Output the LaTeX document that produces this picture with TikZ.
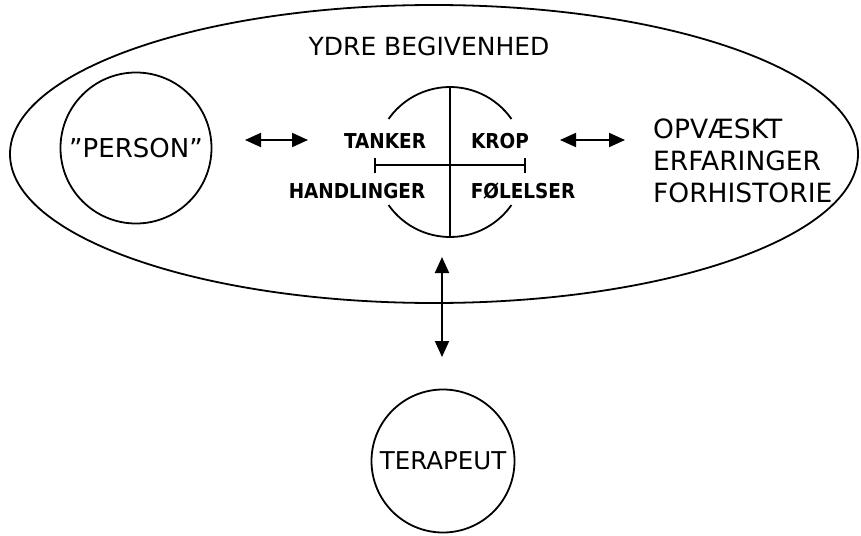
\documentclass[tikz,border=0pt]{standalone}
\usepackage{fontspec}
\setmainfont{DejaVu Sans}
\newfontfamily\quadfont[FakeStretch=0.9]{DejaVu Sans Bold}
\usetikzlibrary{arrows.meta}
\begin{document}
\begin{tikzpicture}[x=1pt,y=-1pt,
  lbl/.style={inner sep=0pt, font=\fontsize{25}{32}\selectfont},
  quad/.style={inner sep=0pt, font=\quadfont\fontsize{20.5}{24}\selectfont},
  ring/.style={draw, line width=1.8pt},
  bubble/.style={circle, draw, line width=1.8pt, inner sep=0pt},
  cross/.style={line width=1.3pt},
  dbl/.style={line width=2pt, {Triangle[length=16pt,width=14pt]}-{Triangle[length=16pt,width=14pt]}}]
\useasboundingbox (0,0) rectangle (861,535);
% outer ellipse
\draw[ring] (434,154) ellipse [x radius=424, y radius=149];
\node[lbl] (ydre) at (429,46) {YDRE BEGIVENHED};
% person
\node[bubble, minimum size=151pt, font=\fontsize{26}{30}\selectfont] (person) at (136,148) {”PERSON”};
% central quad
\begin{scope}[shift={(450,162)}, x=1pt, y=1pt]
  \draw[ring] (35:75) arc[start angle=35, end angle=145, radius=75];
  \draw[ring] (215:75) arc[start angle=215, end angle=325, radius=75];
  \draw[cross] (0,75) -- (0,-75);
  \draw[cross] (-75,-3) -- (75,-3);
  \draw[cross] (-75,-10.5) -- (-75,4.5);
  \draw[cross] (75,-10.5) -- (75,4.5);
\end{scope}
\node[quad] (tanker) at (385,141) {TANKER};
\node[quad] (krop) at (500,141) {KROP};
\node[quad] (handl) at (357,191) {HANDLINGER};
\node[quad] (foel) at (523,191) {FØLELSER};
% right text
\node[inner sep=0pt, font=\fontsize{26.5}{32}\selectfont, anchor=west, align=left] (opv) at (653,161) {OPVÆSKT\\ERFARINGER\\FORHISTORIE};
% terapeut
\node[bubble, minimum size=143pt, font=\fontsize{24.5}{28}\selectfont] (terapeut) at (443,461) {TERAPEUT};
% arrows
\coordinate (a1) at (245,140);
\coordinate (a2) at (308,140);
\coordinate (b1) at (560,140);
\coordinate (b2) at (625,140);
\coordinate (c1) at (442,257);
\coordinate (c2) at (442,357);
\draw[dbl] (a1) -- (a2);
\draw[dbl] (b1) -- (b2);
\draw[dbl] (c1) -- (c2);
\end{tikzpicture}
\end{document}
